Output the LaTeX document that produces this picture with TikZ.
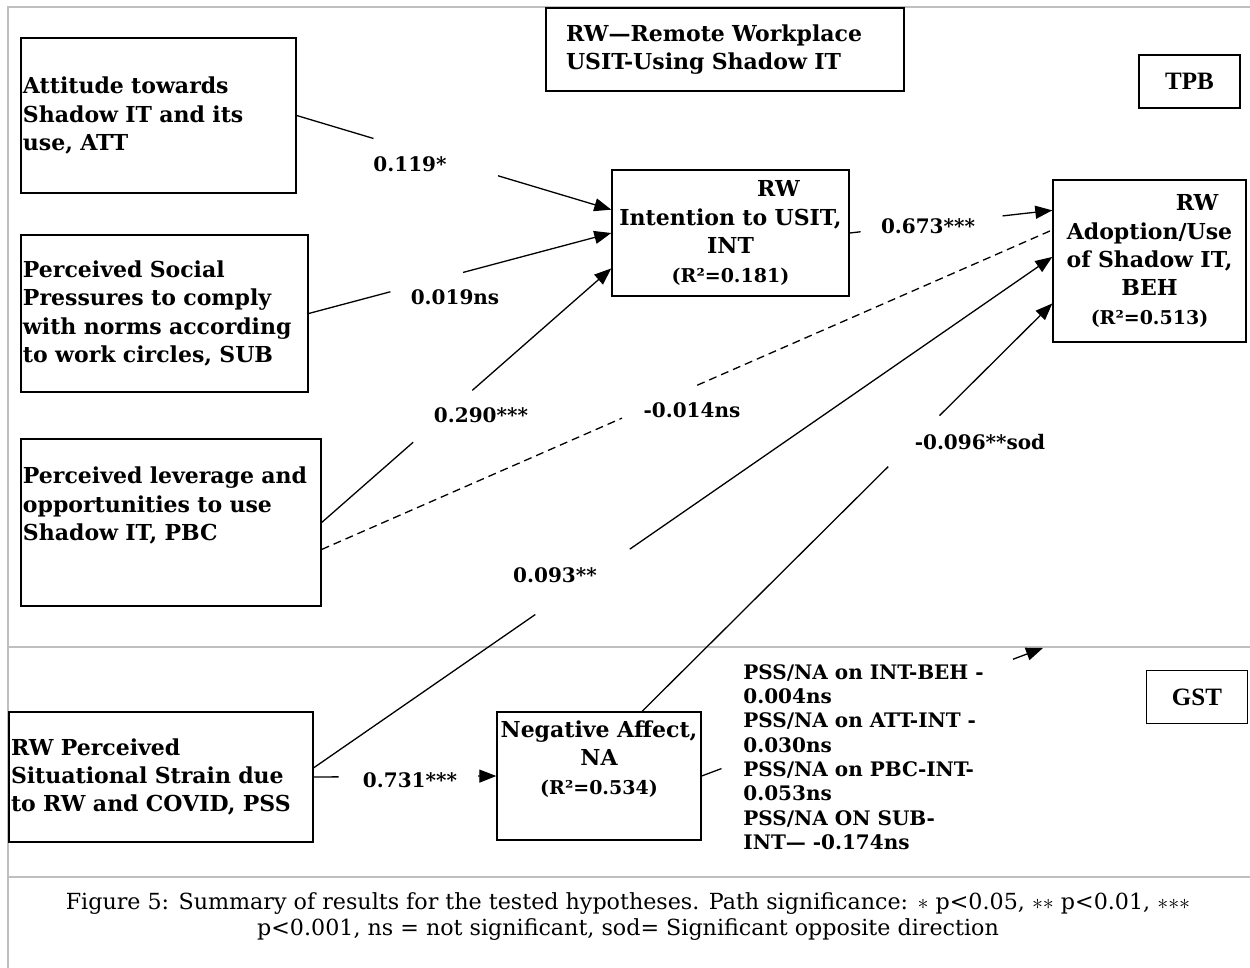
\documentclass[tikz,border=0pt]{standalone}
\usepackage{fontspec}
\setmainfont{DejaVu Serif}
\newfontfamily\tagfont{Liberation Serif}
\usetikzlibrary{arrows.meta,calc}
\newcommand\boxfont{\bfseries\fontsize{11}{14.2}\selectfont}
\newcommand\coeffont{\bfseries\fontsize{10}{12}\selectfont}
\newcommand\notefont{\bfseries\fontsize{10}{12.15}\selectfont}
\newcommand\capfont{\fontsize{11.1}{13}\selectfont}

\begin{document}
\begin{tikzpicture}[x=0.5pt,y=-0.5pt,
  box/.style={draw, line width=0.7pt, inner xsep=1pt, inner ysep=0pt, font=\boxfont},
  tag/.style={draw, line width=0.7pt, inner sep=0pt, font=\tagfont\bfseries\fontsize{12.5}{14}\selectfont,
              minimum width=50.5pt, minimum height=26.5pt},
  link/.style={line width=0.65pt},
  arr/.style={link, -{Triangle[length=8.5pt,width=6.5pt]}},
  nsline/.style={link, dash pattern=on 4pt off 2.5pt},
  coef/.style={font=\coeffont, inner sep=0pt},
  rule/.style={draw=black!25, line width=0.8pt}]

\useasboundingbox (0,0) rectangle (1250,968);
\fill[white] (0,0) rectangle (1250,968);

% page frame and section separators
\draw[rule] (1250,7) -- (8,7) -- (8,968);
\draw[rule] (8,647) -- (1250,647);
\draw[rule] (8,877) -- (1250,877);

% constructs
\node[box, align=left, text width=135.5pt, minimum width=137.5pt, minimum height=77.5pt]
  (att) at (158.5,115.5) {Attitude towards\\Shadow IT and its\\use, ATT};
\node[box, align=left, text width=141.5pt, minimum width=143.5pt, minimum height=78.5pt]
  (sub) at (164.5,313.5) {Perceived Social\\Pressures to comply\\with norms according\\to work circles, SUB};
\node[box, align=left, text width=148pt, minimum width=150pt, minimum height=83.5pt]
  (pbc) at (171,522.5) {Perceived leverage and\\opportunities to use\\Shadow IT, PBC\\\strut};
\node[box, align=left, text width=150pt, minimum width=152pt, minimum height=65pt]
  (pss) at (161,777) {RW Perceived\\Situational Strain due\\to RW and COVID, PSS};
\node[box, align=center, text width=116.5pt, minimum width=118.5pt, minimum height=63pt]
  (int) at (730.5,233) {\hspace*{48pt}RW\\Intention to USIT,\\INT\\{\fontsize{9.5}{14.2}\selectfont(R²=0.181)}};
\node[box, align=center, text width=94.5pt, minimum width=96.5pt, minimum height=81pt]
  (beh) at (1149.5,261) {\hspace*{47.5pt}RW\\Adoption/Use\\of Shadow IT,\\BEH\\{\fontsize{9.5}{14.2}\selectfont(R²=0.513)}};
\node[box, align=center, text width=100pt, minimum width=102pt, minimum height=64pt]
  (na) at (599,776) {Negative Affect,\\NA\\{\fontsize{9.5}{14.2}\selectfont(R²=0.534)}\\\strut};

% legend and model tags
\node[box, align=left, inner xsep=10pt, text width=159pt, minimum height=41.5pt]
  (legend) at (725,49.5) {RW—Remote Workplace\\USIT-Using Shadow IT};
\node[tag] (tpb) at (1189.5,81.5) {TPB};
\node[tag] (gst) at (1197,697) {GST};

% attachment points on the box borders
\coordinate (int-a) at ($(int.north west)!0.317!(int.south west)$);
\coordinate (int-c) at ($(int.north west)!0.778!(int.south west)$);
\coordinate (beh-a) at ($(beh.north west)!0.19!(beh.south west)$);
\coordinate (beh-b) at ($(beh.north west)!0.31!(beh.south west)$);
\coordinate (beh-c) at ($(beh.north west)!0.475!(beh.south west)$);
\coordinate (beh-d) at ($(beh.north west)!0.76!(beh.south west)$);
\coordinate (pbc-b) at ($(pbc.north east)!0.66!(pbc.south east)$);
\coordinate (pss-a) at ($(pss.north east)!0.43!(pss.south east)$);
\coordinate (na-top) at ($(na.north west)!0.71!(na.north east)$);
\coordinate (mod-tip) at (1043,648);

% paths, each broken where its coefficient sits
\draw[link] (att.east) -- ($(att.east)!0.244!(int-a)$);
\draw[arr]  ($(att.east)!0.64!(int-a)$) -- (int-a);
\draw[link] (sub.east) -- ($(sub.east)!0.27!(int.west)$);
\draw[arr]  ($(sub.east)!0.51!(int.west)$) -- (int.west);
\draw[link] (pbc.east) -- ($(pbc.east)!0.316!(int-c)$);
\draw[arr]  ($(pbc.east)!0.52!(int-c)$) -- (int-c);
\draw[link] (int.east) -- ($(int.east)!0.054!(beh-a)$);
\draw[arr]  ($(int.east)!0.755!(beh-a)$) -- (beh-a);
\draw[nsline] (pbc-b) -- ($(pbc-b)!0.411!(beh-b)$);
\draw[nsline] ($(pbc-b)!0.514!(beh-b)$) -- (beh-b);
\draw[link] (pss-a) -- ($(pss-a)!0.3!(beh-c)$);
\draw[arr]  ($(pss-a)!0.428!(beh-c)$) -- (beh-c);
\draw[link] (na-top) -- ($(na-top)!0.6!(beh-d)$);
\draw[arr]  ($(na-top)!0.725!(beh-d)$) -- (beh-d);
\draw[link] (pss.east) -- ($(pss.east)!0.136!(na.west)$);
\draw[arr]  ($(pss.east)!0.9!(na.west)$) -- (na.west);
\draw[link] (na.east) -- ($(na.east)!0.058!(mod-tip)$);
\draw[arr]  ($(na.east)!0.912!(mod-tip)$) -- (mod-tip);

% path coefficients
\node[coef] (c-att) at (410,164) {0.119*};
\node[coef] (c-sub) at (455,297) {0.019ns};
\node[coef] (c-pbc) at (481,415) {0.290***};
\node[coef] (c-int) at (928,226) {0.673***};
\node[coef] (c-pbcb) at (692,410) {-0.014ns};
\node[coef] (c-pss) at (555,575) {0.093**};
\node[coef] (c-na) at (980,442) {-0.096**sod};
\node[coef] (c-pssna) at (410,780) {0.731***};

% moderation results
\node[font=\notefont, align=left, inner sep=0pt, anchor=north west] (mod) at (743,664)
  {PSS/NA on INT-BEH -\\0.004ns\\PSS/NA on ATT-INT -\\0.030ns\\PSS/NA on PBC-INT-\\0.053ns\\PSS/NA ON SUB-\\INT— -0.174ns};

% caption
\node[font=\capfont, align=center, inner sep=0pt] (cap) at (628,917)
  {Figure 5: Summary of results for the tested hypotheses. Path significance: ${\ast}$ p<0.05, ${\ast}{\ast}$ p<0.01, ${\ast}{\ast}{\ast}$\\p<0.001, ns = not significant, sod= Significant opposite direction};
\end{tikzpicture}
\end{document}
